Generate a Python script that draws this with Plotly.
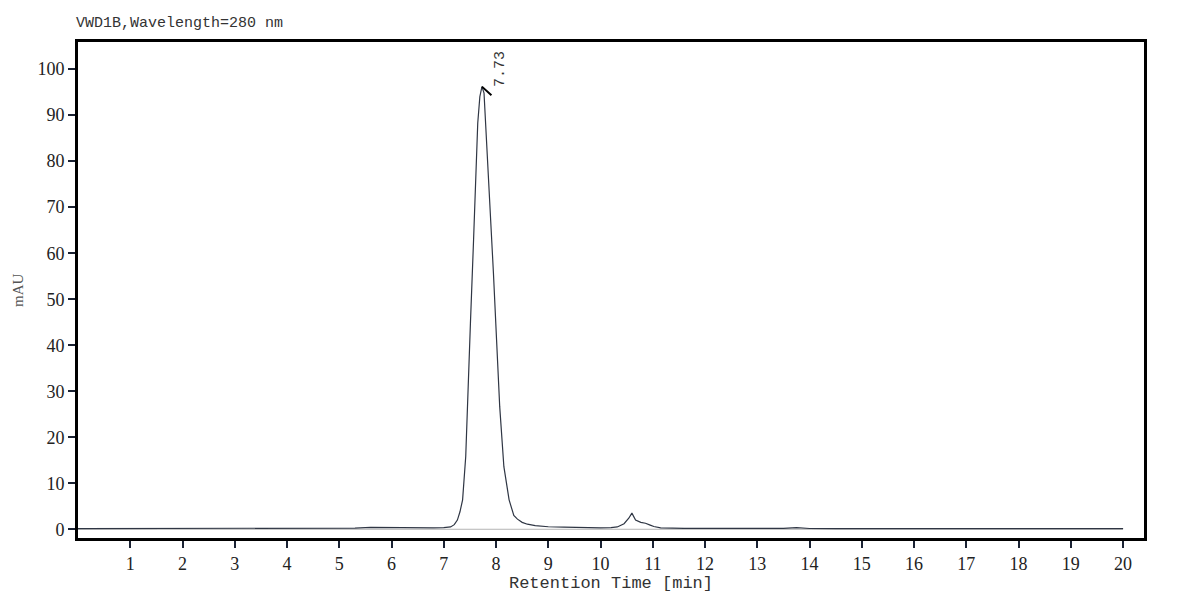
import plotly.graph_objects as go

# chromatogram (retention time in min, signal in mAU)
rt = [0, 0.5, 1, 1.5, 2, 2.5, 3, 3.5, 4, 4.5, 5, 5.3, 5.6, 5.9, 6.2, 6.5, 6.8,
      7.0, 7.13, 7.2, 7.26, 7.31, 7.36, 7.42, 7.47, 7.51, 7.57, 7.61, 7.65,
      7.69, 7.73, 7.77, 7.82, 7.88, 7.95, 8.01, 8.07, 8.15, 8.25, 8.34, 8.41,
      8.5, 8.6, 8.75, 9.0, 9.3, 9.6, 10.0, 10.2, 10.32, 10.45, 10.54, 10.6,
      10.67, 10.77, 10.86, 10.95, 11.02, 11.15, 11.3, 11.6, 12.0, 12.5, 13.0,
      13.5, 13.75, 13.85, 14.0, 14.5, 15, 16, 17, 18, 19, 20]
signal = [0.15, 0.15, 0.15, 0.15, 0.14, 0.14, 0.13, 0.12, 0.1, 0.1, 0.15, 0.25,
          0.4, 0.35, 0.28, 0.25, 0.3, 0.35, 0.5, 1.0, 2.0, 3.8, 6.4, 15.8, 30,
          44.8, 62.9, 77.4, 88.3, 94.0, 96.2, 94.8, 84.6, 70.1, 55.7, 41.2,
          26.7, 13.6, 6.4, 3.0, 2.2, 1.5, 1.1, 0.8, 0.55, 0.45, 0.35, 0.3, 0.35,
          0.5, 1.2, 2.4, 3.5, 2.0, 1.5, 1.3, 0.9, 0.6, 0.3, 0.22, 0.2, 0.18,
          0.17, 0.16, 0.18, 0.35, 0.3, 0.17, 0.15, 0.14, 0.13, 0.12, 0.12,
          0.12, 0.12]

baseline_x = [0, 20]
baseline_y = [0, 0]

peak_label = "7.73"
x_ticks = list(range(1, 21))
y_ticks = list(range(0, 101, 10))

apex = signal.index(max(signal))

fig = go.Figure()
fig.add_trace(go.Scatter(x=baseline_x, y=baseline_y, mode="lines",
                         line=dict(color="#b4b4b4", width=1), showlegend=False))
fig.add_trace(go.Scatter(x=rt, y=signal, mode="lines",
                         line=dict(color="#2f3644", width=1.2), showlegend=False))

# peak marker stroke + rotated retention time
fig.add_annotation(x=rt[apex], y=signal[apex], text="", showarrow=True,
                   arrowhead=0, arrowwidth=2, arrowcolor="black", ax=11, ay=10)
fig.add_annotation(x=rt[apex], y=signal[apex], text=peak_label, textangle=-90,
                   showarrow=False, xanchor="left", yanchor="bottom",
                   xshift=8, yshift=-2,
                   font=dict(family="Liberation Mono", size=15, color="#333"))
fig.add_annotation(xref="paper", yref="paper", x=0, y=1, xshift=-4, yshift=8,
                   xanchor="left", yanchor="bottom", showarrow=False,
                   text="VWD1B,Wavelength=280 nm",
                   font=dict(family="Liberation Mono", size=15, color="#333"))
fig.add_annotation(xref="paper", yref="paper", x=0, y=0.5, xshift=-60,
                   xanchor="center", yanchor="middle",
                   textangle=-90, showarrow=False, text="mAU",
                   font=dict(family="Liberation Serif", size=15, color="#555"))

axis_font = dict(family="Liberation Serif", size=18, color="#222")
fig.update_layout(
    width=1200, height=613,
    margin=dict(l=70, r=64, t=34, b=83),
    plot_bgcolor="white", paper_bgcolor="white",
    xaxis=dict(range=[0, 20.4], tickvals=x_ticks, ticks="outside", ticklen=7,
               tickwidth=2, tickcolor="#1a2233", showline=True, mirror=True,
               linecolor="black", linewidth=3, showgrid=False, zeroline=False,
               tickfont=axis_font,
               title=dict(text="Retention Time [min]", standoff=4,
                          font=dict(family="Liberation Mono", size=17, color="#333"))),
    yaxis=dict(range=[-1.9, 105.9], tickvals=y_ticks, ticks="outside", ticklen=7,
               tickwidth=2, tickcolor="#1a2233", showline=True, mirror=True,
               linecolor="black", linewidth=3, showgrid=False, zeroline=False,
               tickfont=axis_font),
)

fig.write_html("out.html")
